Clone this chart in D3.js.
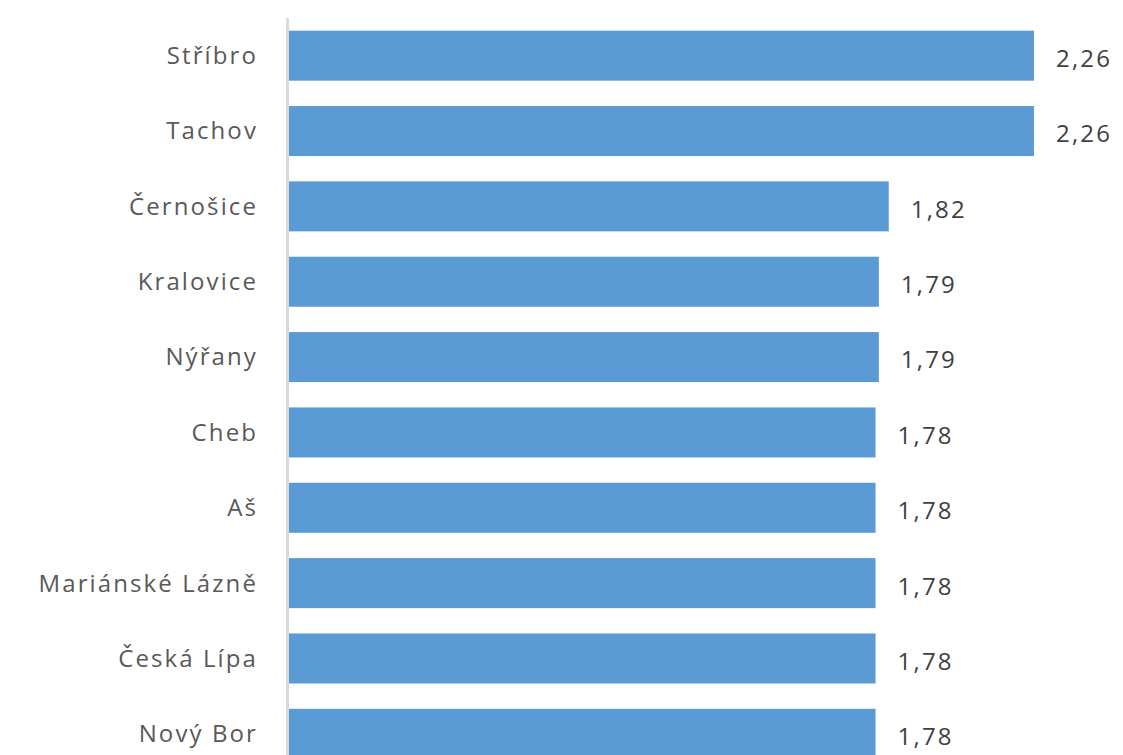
<!doctype html>
<html>
<head>
<style>
  body { margin: 0; background: #fff; }
  .lbl { font-family: "Open Sans", sans-serif; font-size: 24px; fill: #595959; letter-spacing: 2.1px; }
  .val { font-family: "Open Sans", sans-serif; font-size: 24px; fill: #404040; letter-spacing: 2.2px; }
</style>
<script src="https://d3js.org/d3.v7.min.js"></script>
</head>
<body>
<svg width="1123" height="755"></svg>
<script>
var towns = ["Stříbro", "Tachov", "Černošice", "Kralovice", "Nýřany", "Cheb", "Aš",
             "Mariánské Lázně", "Česká Lípa", "Nový Bor"];
var values = [2.26, 2.26, 1.82, 1.79, 1.79, 1.78, 1.78, 1.78, 1.78, 1.78];
var valueLabels = ["2,26", "2,26", "1,82", "1,79", "1,79", "1,78", "1,78", "1,78", "1,78", "1,78"];

var svg = d3.select("svg");
var x0 = 288, plotTop = 18;

var x = d3.scaleLinear().domain([0, 2.26]).range([x0, 1034]);
var y = d3.scaleBand().domain(towns).range([plotTop, plotTop + 75.35 * towns.length])
    .paddingInner(0.336).paddingOuter(0.168);

svg.selectAll("rect.bar")
    .data(towns)
    .enter().append("rect")
    .attr("class", "bar")
    .attr("x", x(0))
    .attr("y", d => y(d))
    .attr("width", (d, i) => x(values[i]) - x(0))
    .attr("height", y.bandwidth())
    .attr("fill", "#5b9bd5");

// axis line
svg.append("line")
    .attr("x1", x0 - 0.5).attr("x2", x0 - 0.5)
    .attr("y1", plotTop).attr("y2", 755)
    .attr("stroke", "#d9d9d9").attr("stroke-width", 3);

// category labels (trailing letter-spacing pushed back with x)
svg.selectAll("text.lbl")
    .data(towns)
    .enter().append("text")
    .attr("class", "lbl")
    .attr("x", 258)
    .attr("y", d => y(d) + y.bandwidth() / 2)
    .attr("dy", "0.35em")
    .attr("text-anchor", "end")
    .text(d => d);

svg.selectAll("text.val")
    .data(towns)
    .enter().append("text")
    .attr("class", "val")
    .attr("x", (d, i) => x(values[i]) + 22)
    .attr("y", d => y(d) + y.bandwidth() / 2 + 3)
    .attr("dy", "0.35em")
    .text((d, i) => valueLabels[i]);
</script>
</body>
</html>
